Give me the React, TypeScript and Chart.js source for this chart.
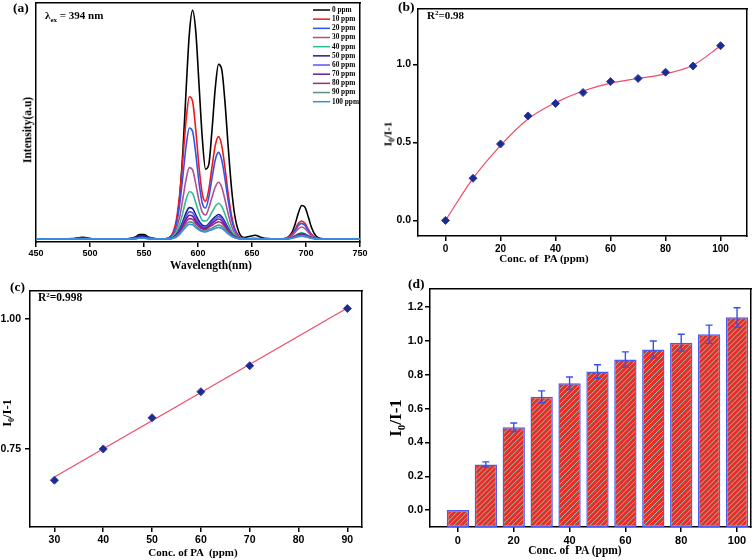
import React, { useEffect, useRef } from 'react';
import { Chart, registerables } from 'chart.js';

Chart.register(...registerables);

const SERIF = '"Liberation Serif", "Times New Roman", serif';
const SANS = '"Liberation Sans", Arial, sans-serif';

// ---------- (a) emission spectra ----------
const WAVELENGTH = [
  450, 470, 485, 490, 494, 498, 505, 520, 535, 542, 546, 550, 554, 560, 567, 572,
  577, 580, 583, 586, 589, 592, 595, 598, 601, 604, 607, 610, 613, 616, 619, 622, 625, 628, 631, 634,
  638, 643, 648, 653, 658, 665, 672, 678, 683, 687, 690, 693, 696, 699, 702, 705, 709, 714, 720, 728, 740, 750,
];
const PPM_0 = [
  1.3, 1.3, 1.4, 1.8, 2.0, 1.6, 1.3, 1.3, 1.3, 2.1, 3.1, 3.1, 2.1, 1.4, 1.3, 1.5,
  3.4, 8.0, 18.7, 37.9, 63.7, 87.2, 96.9, 87.7, 65.5, 43.3, 30.5, 32.5, 47.0, 64.4, 74.3, 72.1, 58.4, 39.6, 22.7, 11.2,
  4.0, 1.9, 2.4, 2.8, 2.0, 1.4, 1.3, 1.3, 1.9, 4.0, 7.6, 12.2, 15.3, 14.6, 10.7, 6.2, 2.6, 1.4, 1.3, 1.3, 1.3, 1.3,
];
const PPM_10 = [
  1.3, 1.3, 1.3, 1.5, 1.6, 1.4, 1.3, 1.3, 1.3, 1.7, 2.2, 2.2, 1.7, 1.3, 1.3, 1.6,
  4.2, 9.4, 19.7, 35.0, 51.1, 60.8, 58.8, 46.6, 31.1, 20.0, 17.0, 22.0, 31.5, 40.4, 44.1, 40.3, 31.0, 20.0, 11.1, 5.6,
  2.4, 1.4, 1.4, 1.6, 1.4, 1.3, 1.3, 1.3, 1.8, 3.3, 5.4, 7.8, 8.8, 7.8, 5.4, 3.3, 1.8, 1.3, 1.3, 1.3, 1.3, 1.3,
];
const PPM_20 = [
  1.3, 1.3, 1.3, 1.5, 1.6, 1.4, 1.3, 1.3, 1.3, 1.8, 2.4, 2.4, 1.8, 1.3, 1.3, 1.5,
  3.6, 7.6, 15.7, 27.6, 40.2, 47.7, 46.2, 36.7, 24.6, 16.2, 14.2, 18.8, 26.8, 34.4, 37.5, 34.3, 26.4, 17.2, 9.6, 5.0,
  2.2, 1.4, 1.3, 1.3, 1.3, 1.3, 1.3, 1.3, 1.7, 3.0, 4.9, 6.9, 7.8, 6.9, 4.9, 3.0, 1.7, 1.3, 1.3, 1.3, 1.3, 1.3,
];
const PPM_30 = [
  1.3, 1.3, 1.3, 1.3, 1.4, 1.3, 1.3, 1.3, 1.3, 1.5, 1.8, 1.8, 1.5, 1.3, 1.3, 1.4,
  2.7, 5.4, 10.5, 18.2, 26.3, 31.1, 30.2, 24.1, 17.2, 12.4, 11.3, 14.2, 18.8, 23.0, 25.0, 22.9, 17.7, 11.7, 6.8, 3.7,
  1.9, 1.3, 1.3, 1.3, 1.3, 1.3, 1.3, 1.3, 1.6, 2.6, 4.1, 5.6, 6.3, 5.6, 4.1, 2.6, 1.6, 1.3, 1.3, 1.3, 1.3, 1.3,
];
const PPM_40 = [
  1.3, 1.3, 1.3, 1.3, 1.3, 1.3, 1.3, 1.3, 1.3, 1.5, 1.7, 1.7, 1.5, 1.3, 1.3, 1.4,
  2.3, 4.0, 7.4, 12.4, 17.8, 21.0, 20.3, 16.3, 12.0, 9.1, 8.8, 10.0, 12.6, 14.9, 16.2, 14.9, 11.6, 7.8, 4.7, 2.8,
  1.7, 1.3, 1.3, 1.3, 1.3, 1.3, 1.3, 1.3, 1.5, 2.0, 2.7, 3.5, 3.9, 3.5, 2.7, 2.0, 1.5, 1.3, 1.3, 1.3, 1.3, 1.3,
];
const PPM_50 = [
  1.3, 1.3, 1.3, 1.6, 1.7, 1.5, 1.3, 1.3, 1.3, 1.9, 2.6, 2.6, 1.9, 1.3, 1.3, 1.3,
  1.9, 3.1, 5.4, 8.7, 12.3, 14.4, 14.0, 11.3, 8.7, 7.0, 6.7, 7.7, 9.3, 10.6, 11.5, 10.6, 8.4, 5.8, 3.6, 2.3,
  1.6, 1.3, 1.3, 1.3, 1.3, 1.3, 1.3, 1.3, 1.4, 1.9, 2.5, 3.2, 3.5, 3.2, 2.5, 1.9, 1.4, 1.3, 1.3, 1.3, 1.3, 1.3,
];
const PPM_60 = [
  1.3, 1.3, 1.3, 1.3, 1.3, 1.3, 1.3, 1.3, 1.3, 1.5, 1.8, 1.8, 1.5, 1.3, 1.3, 1.3,
  1.8, 2.8, 4.8, 7.7, 10.7, 12.6, 12.2, 9.9, 7.7, 6.4, 6.1, 7.3, 8.6, 9.8, 10.6, 9.8, 7.7, 5.4, 3.4, 2.2,
  1.5, 1.3, 1.3, 1.3, 1.3, 1.3, 1.3, 1.3, 1.4, 1.8, 2.4, 3.0, 3.3, 3.0, 2.4, 1.8, 1.4, 1.3, 1.3, 1.3, 1.3, 1.3,
];
const PPM_70 = [
  1.3, 1.3, 1.3, 1.3, 1.3, 1.3, 1.3, 1.3, 1.3, 1.5, 1.8, 1.8, 1.5, 1.3, 1.3, 1.3,
  1.8, 2.7, 4.4, 6.9, 9.6, 11.2, 10.8, 8.8, 7.1, 5.9, 5.7, 6.6, 7.9, 8.9, 9.6, 8.9, 7.1, 4.9, 3.2, 2.1,
  1.5, 1.3, 1.3, 1.3, 1.3, 1.3, 1.3, 1.3, 1.4, 1.8, 2.3, 2.9, 3.1, 2.9, 2.3, 1.8, 1.4, 1.3, 1.3, 1.3, 1.3, 1.3,
];
const PPM_80 = [
  1.3, 1.3, 1.3, 1.3, 1.3, 1.3, 1.3, 1.3, 1.3, 1.5, 1.7, 1.7, 1.5, 1.3, 1.3, 1.3,
  1.7, 2.5, 3.9, 6.1, 8.4, 9.8, 9.5, 7.8, 6.3, 5.4, 5.2, 6.1, 7.0, 7.9, 8.5, 7.9, 6.3, 4.5, 3.0, 2.0,
  1.5, 1.3, 1.3, 1.3, 1.3, 1.3, 1.3, 1.3, 1.4, 1.7, 2.2, 2.7, 2.9, 2.7, 2.2, 1.7, 1.4, 1.3, 1.3, 1.3, 1.3, 1.3,
];
const PPM_90 = [
  1.3, 1.3, 1.3, 1.3, 1.3, 1.3, 1.3, 1.3, 1.3, 1.4, 1.6, 1.6, 1.4, 1.3, 1.3, 1.3,
  1.6, 2.3, 3.5, 5.3, 7.3, 8.4, 8.2, 6.8, 5.5, 4.8, 4.6, 5.2, 5.8, 6.6, 7.1, 6.6, 5.3, 3.8, 2.6, 1.9,
  1.4, 1.3, 1.3, 1.3, 1.3, 1.3, 1.3, 1.3, 1.4, 1.6, 2.0, 2.4, 2.6, 2.4, 2.0, 1.6, 1.4, 1.3, 1.3, 1.3, 1.3, 1.3,
];
const PPM_100 = [
  1.3, 1.3, 1.3, 1.3, 1.3, 1.3, 1.3, 1.3, 1.3, 1.4, 1.6, 1.6, 1.4, 1.3, 1.3, 1.3,
  1.6, 2.1, 3.2, 4.8, 6.4, 7.4, 7.2, 6.0, 5.0, 4.4, 4.2, 4.7, 5.1, 5.7, 6.1, 5.7, 4.6, 3.4, 2.4, 1.8,
  1.4, 1.3, 1.3, 1.3, 1.3, 1.3, 1.3, 1.3, 1.4, 1.6, 1.9, 2.2, 2.4, 2.2, 1.9, 1.6, 1.4, 1.3, 1.3, 1.3, 1.3, 1.3,
];
const SPECTRA = [PPM_0, PPM_10, PPM_20, PPM_30, PPM_40, PPM_50, PPM_60, PPM_70, PPM_80, PPM_90, PPM_100];
const SPECTRA_LABELS = ['0 ppm', '10 ppm', '20 ppm', '30 ppm', '40 ppm', '50 ppm', '60 ppm', '70 ppm', '80 ppm', '90 ppm', '100 ppm'];
const SPECTRA_COLORS = ['#000000', '#f01818', '#3352ee', '#b0508c', '#2cbf8c', '#1c1c96', '#5a54f0', '#6a1a96', '#9a2a80', '#5f8f80', '#3a8ce0'];

// ---------- (b) quenching, full range ----------
const CONC = [0, 10, 20, 30, 40, 50, 60, 70, 80, 90, 100];
const QUENCH = [0, 0.27, 0.49, 0.67, 0.75, 0.82, 0.89, 0.91, 0.95, 0.99, 1.12];
const QUENCH_FIT = [0, 0.27, 0.48, 0.65, 0.755, 0.83, 0.88, 0.91, 0.94, 0.995, 1.12];

// ---------- (c) linear range ----------
const CONC_LIN = [30, 40, 50, 60, 70, 90];
const QUENCH_LIN = [0.69, 0.75, 0.81, 0.86, 0.91, 1.02];
const FIT_LIN_X = [30, 90];
const FIT_LIN_Y = [0.696, 1.021];

// ---------- (d) bars with error ----------
const BAR_VALUES = [0, 0.27, 0.49, 0.67, 0.75, 0.82, 0.89, 0.95, 0.99, 1.04, 1.14];
const BAR_ERR = [0, 0.015, 0.025, 0.035, 0.037, 0.04, 0.046, 0.05, 0.05, 0.054, 0.057];

// ---------- scale helpers (vis=true: axis canvas, vis=false: same layout, invisible) ----------
function axis(min: number, max: number, step: number, fmt: (v: number) => string, size: number, fit: number, pad: number, vis: boolean): any {
  return {
    type: 'linear',
    min,
    max,
    weight: 1,
    offset: false,
    afterFit: (s: any) => {
      if (s.isHorizontal()) s.height = fit;
      else s.width = fit;
    },
    border: { display: vis, color: '#000', width: 1.5 },
    grid: { display: vis, offset: false, drawOnChartArea: false, drawTicks: true, tickLength: 5, color: '#000', lineWidth: 1.5 },
    ticks: {
      stepSize: step,
      includeBounds: false,
      autoSkip: false,
      maxRotation: 0,
      padding: pad,
      color: vis ? '#000' : 'rgba(0,0,0,0)',
      font: { family: SANS, weight: 'bold', size },
      callback: (v: number) => fmt(v),
    },
  };
}

function frameAxis(position: string, vis: boolean): any {
  return {
    type: 'linear',
    position,
    display: true,
    offset: false,
    afterFit: (s: any) => {
      if (s.isHorizontal()) s.height = 0;
      else s.width = 0;
    },
    border: { display: vis, color: '#000', width: 1.5 },
    grid: { display: false },
    ticks: { display: false },
  };
}

function opts(padding: any, scales: any): any {
  return {
    responsive: false,
    animation: false,
    events: [],
    plugins: { legend: { display: false }, tooltip: { enabled: false } },
    layout: { padding },
    scales,
  };
}

const PAD_A = { left: 36, top: 3, right: 18, bottom: 0 };
const PAD_B = { left: 0, top: 2, right: 9, bottom: 0 };
const PAD_C = { left: 0, top: 3, right: 16, bottom: 0 };
const PAD_D = { left: 0, top: 5, right: 5, bottom: 0 };

const scalesA = (vis: boolean) => ({
  x: axis(450, 750, 50, (v) => String(v), 9, 38, 1, vis),
  y: {
    type: 'linear',
    min: 0,
    max: 100,
    display: true,
    afterFit: (s: any) => {
      s.width = 0;
    },
    border: { display: vis, color: '#000', width: 1.5 },
    grid: { display: false },
    ticks: { display: false },
  },
  xt: frameAxis('top', vis),
  yr: frameAxis('right', vis),
});
const scalesB = (vis: boolean) => ({
  x: axis(-10, 109.6, 20, (v) => String(v), 10, 44, 2, vis),
  y: axis(-0.1, 1.36, 0.5, (v) => v.toFixed(1), 10.5, 40, 2, vis),
  xt: frameAxis('top', vis),
  yr: frameAxis('right', vis),
});
const scalesC = (vis: boolean) => ({
  x: axis(25, 93, 10, (v) => String(v), 10.5, 33, 2, vis),
  y: axis(0.6, 1.055, 0.25, (v) => v.toFixed(2), 10.5, 30, 4, vis),
  xt: frameAxis('top', vis),
  yr: frameAxis('right', vis),
});
const scalesD = (vis: boolean) => ({
  x: axis(-10, 105, 20, (v) => String(v), 11, 33, 2, vis),
  y: axis(-0.1, 1.31, 0.2, (v) => v.toFixed(1), 11, 52, 2, vis),
  xt: frameAxis('top', vis),
  yr: frameAxis('right', vis),
});

const axesChart = (padding: any, scales: any) => (canvas: HTMLCanvasElement) =>
  new Chart(canvas, { type: 'line', data: { datasets: [] }, options: opts(padding, scales) });

// ---------- data charts ----------
function dataA(canvas: HTMLCanvasElement) {
  const legend = {
    id: 'specLegend',
    afterDraw(chart: any) {
      const ctx = chart.ctx as CanvasRenderingContext2D;
      ctx.save();
      SPECTRA_LABELS.forEach((lab, k) => {
        const y = 10 + k * 9.17;
        ctx.strokeStyle = SPECTRA_COLORS[k];
        ctx.lineWidth = 1.5;
        ctx.beginPath();
        ctx.moveTo(313, y);
        ctx.lineTo(330, y);
        ctx.stroke();
        ctx.fillStyle = '#000';
        ctx.font = `bold 7.3px ${SERIF}`;
        ctx.textBaseline = 'middle';
        ctx.textAlign = 'left';
        ctx.fillText(lab, 332, y);
      });
      ctx.restore();
    },
  };
  return new Chart(canvas, {
    type: 'line',
    data: {
      datasets: SPECTRA.map((arr, k) => ({
        label: SPECTRA_LABELS[k],
        data: WAVELENGTH.map((w, i) => ({ x: w, y: arr[i] })),
        borderColor: SPECTRA_COLORS[k],
        borderWidth: 1.6,
        pointRadius: 0,
        cubicInterpolationMode: 'monotone',
        fill: false,
        order: SPECTRA.length - k,
      })) as any,
    },
    options: opts(PAD_A, scalesA(false)),
    plugins: [legend],
  });
}

function points(data: { x: number; y: number }[]): any {
  return {
    data,
    showLine: false,
    pointStyle: 'rectRot',
    pointRadius: 4,
    pointBackgroundColor: '#1d2a8e',
    pointBorderColor: '#2b3ca8',
    pointBorderWidth: 1,
    order: 0,
  };
}

function dataB(canvas: HTMLCanvasElement) {
  return new Chart(canvas, {
    type: 'line',
    data: {
      datasets: [
        points(CONC.map((c, i) => ({ x: c, y: QUENCH[i] }))),
        {
          data: CONC.map((c, i) => ({ x: c, y: QUENCH_FIT[i] })),
          borderColor: '#f04a6a',
          borderWidth: 1.2,
          pointRadius: 0,
          cubicInterpolationMode: 'monotone',
          order: 1,
        } as any,
      ],
    },
    options: opts(PAD_B, scalesB(false)),
  });
}

function dataC(canvas: HTMLCanvasElement) {
  return new Chart(canvas, {
    type: 'line',
    data: {
      datasets: [
        points(CONC_LIN.map((c, i) => ({ x: c, y: QUENCH_LIN[i] }))),
        {
          data: FIT_LIN_X.map((c, i) => ({ x: c, y: FIT_LIN_Y[i] })),
          borderColor: '#f04a6a',
          borderWidth: 1.2,
          pointRadius: 0,
          order: 1,
        } as any,
      ],
    },
    options: opts(PAD_C, scalesC(false)),
  });
}

function dataD(canvas: HTMLCanvasElement) {
  const hatchAndErrors = {
    id: 'hatchErr',
    afterDatasetsDraw(chart: any) {
      const ctx = chart.ctx as CanvasRenderingContext2D;
      const ys = chart.scales.y;
      const meta = chart.getDatasetMeta(0);
      meta.data.forEach((bar: any, i: number) => {
        const p = bar.getProps(['x', 'y', 'base', 'width'], true);
        const l = p.x - p.width / 2 + 1.2;
        const r = p.x + p.width / 2 - 1.2;
        const t = Math.min(p.y, p.base) + 1.2;
        const b = Math.max(p.y, p.base) - 1.2;
        if (b > t) {
          ctx.save();
          ctx.beginPath();
          ctx.rect(l, t, r - l, b - t);
          ctx.clip();
          ctx.strokeStyle = '#8cc4b4';
          ctx.lineWidth = 1;
          ctx.beginPath();
          const h = b - t;
          for (let k = l - h - 5; k < r + 5; k += 5) {
            ctx.moveTo(k, b);
            ctx.lineTo(k + h, t);
          }
          ctx.stroke();
          ctx.restore();
        }
        const e = BAR_ERR[i];
        if (!e) return;
        const top = ys.getPixelForValue(BAR_VALUES[i] + e);
        const bot = ys.getPixelForValue(BAR_VALUES[i] - e);
        ctx.save();
        ctx.strokeStyle = '#3b4fe6';
        ctx.lineWidth = 1.4;
        ctx.beginPath();
        ctx.moveTo(p.x, top);
        ctx.lineTo(p.x, bot);
        ctx.moveTo(p.x - 3.5, top);
        ctx.lineTo(p.x + 3.5, top);
        ctx.moveTo(p.x - 3.5, bot);
        ctx.lineTo(p.x + 3.5, bot);
        ctx.stroke();
        ctx.restore();
      });
    },
  };
  return new Chart(canvas, {
    type: 'bar',
    data: {
      datasets: [
        {
          data: CONC.map((c, i) => ({ x: c, y: BAR_VALUES[i] })),
          base: -0.1,
          backgroundColor: '#ec2b24',
          borderColor: '#4a5cf0',
          borderWidth: 1.5,
          borderSkipped: false,
          categoryPercentage: 1,
          barPercentage: 0.8,
        } as any,
      ],
    },
    options: opts(PAD_D, scalesD(false)),
    plugins: [hatchAndErrors],
  });
}

// ---------- HTML text labels ----------
function Label({ x, y, size, align = 'left', rot = false, children }: { x: number; y: number; size: number; align?: 'left' | 'center'; rot?: boolean; children: React.ReactNode }) {
  const tf = rot ? 'translate(-50%, -50%) rotate(-90deg)' : align === 'center' ? 'translate(-50%, -50%)' : 'translate(0, -50%)';
  return (
    <div
      style={{
        position: 'absolute',
        left: x,
        top: y,
        transform: tf,
        fontFamily: SERIF,
        fontWeight: 'bold',
        fontSize: size,
        lineHeight: 1,
        whiteSpace: 'pre',
        color: '#000',
      }}
    >
      {children}
    </div>
  );
}

const Sub = ({ s, dy, children }: { s: number; dy: number; children: React.ReactNode }) => (
  <span style={{ fontSize: s, position: 'relative', top: dy }}>{children}</span>
);

function Panel({ left, top, makeAxes, makeData, children }: { left: number; top: number; makeAxes: (c: HTMLCanvasElement) => Chart; makeData: (c: HTMLCanvasElement) => Chart; children?: React.ReactNode }) {
  const axesRef = useRef<HTMLCanvasElement>(null);
  const dataRef = useRef<HTMLCanvasElement>(null);
  useEffect(() => {
    const c1 = makeAxes(axesRef.current!);
    const c2 = makeData(dataRef.current!);
    return () => {
      c1.destroy();
      c2.destroy();
    };
  }, []);
  const cs: React.CSSProperties = { position: 'absolute', left: 0, top: 0, width: 378, height: 280, display: 'block' };
  return (
    <div style={{ position: 'absolute', left, top, width: 378, height: 280 }}>
      <canvas ref={axesRef} width={378} height={280} style={cs} />
      <canvas ref={dataRef} width={378} height={280} style={cs} />
      {children}
    </div>
  );
}

export default function App() {
  return (
    <div style={{ position: 'absolute', left: 0, top: 0, width: 756, height: 560, background: '#fff', overflow: 'hidden' }}>
      <Panel left={0} top={0} makeAxes={axesChart(PAD_A, scalesA(true))} makeData={dataA}>
        <Label x={13} y={8} size={13.5}>(a)</Label>
        <Label x={45} y={15} size={11}>
          λ<Sub s={7} dy={3}>ex</Sub> = 394 nm
        </Label>
        <Label x={211} y={266} size={11.5} align="center">Wavelength(nm)</Label>
        <Label x={28} y={130} size={11.5} rot>Intensity(a.u)</Label>
      </Panel>
      <Panel left={378} top={0} makeAxes={axesChart(PAD_B, scalesB(true))} makeData={dataB}>
        <Label x={20} y={7} size={13.5}>(b)</Label>
        <Label x={49} y={15} size={11}>
          R<Sub s={7} dy={-4}>2</Sub>=0.98
        </Label>
        <Label x={166} y={258} size={11} align="center">Conc. of  PA (ppm)</Label>
        <Label x={10} y={134} size={11} rot>
          I<Sub s={7.5} dy={3}>0</Sub>/I-1
        </Label>
      </Panel>
      <Panel left={0} top={280} makeAxes={axesChart(PAD_C, scalesC(true))} makeData={dataC}>
        <Label x={10} y={7} size={13.5}>(c)</Label>
        <Label x={38} y={18} size={11.5}>
          R<Sub s={7} dy={-4}>2</Sub>=0.998
        </Label>
        <Label x={193} y={272} size={11} align="center">Conc. of PA  (ppm)</Label>
        <Label x={7} y={133} size={12.5} rot>
          I<Sub s={8} dy={3}>0</Sub>/I-1
        </Label>
      </Panel>
      <Panel left={378} top={280} makeAxes={axesChart(PAD_D, scalesD(true))} makeData={dataD}>
        <Label x={30} y={4} size={13.5}>(d)</Label>
        <Label x={197} y={271} size={11.5} align="center">Conc. of  PA (ppm)</Label>
        <Label x={17} y={138} size={17} rot>
          I<Sub s={11} dy={4}>0</Sub>/I-1
        </Label>
      </Panel>
    </div>
  );
}
